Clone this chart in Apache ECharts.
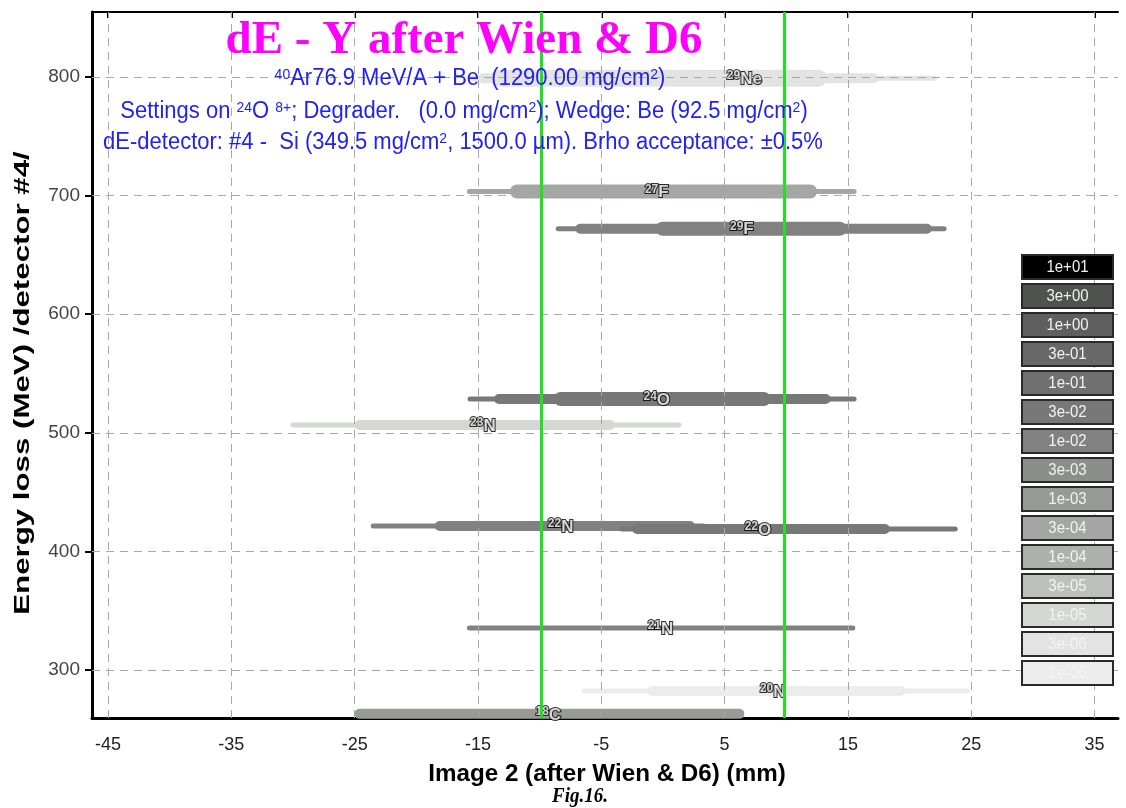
<!DOCTYPE html>
<html><head><meta charset="utf-8">
<script src="https://cdn.jsdelivr.net/npm/echarts@6/dist/echarts.min.js"></script>
<style>html,body{margin:0;padding:0;background:#fff}#c{width:1126px;height:808px}</style>
</head><body><div id="c"></div>
<script>
// ---- data ----
const xTicks = [-45, -35, -25, -15, -5, 5, 15, 25, 35];
const yTicks = [300, 400, 500, 600, 700, 800];
const massNumbers = [29, 27, 29, 24, 23, 22, 22, 21, 20, 18];
const elements = ['Ne', 'F', 'F', 'O', 'N', 'N', 'O', 'N', 'N', 'C'];
const energyLoss = [799, 703.5, 672, 528.5, 506.6, 421.4, 418.9, 335.4, 282.3, 263];
const labelX = [6.6, -0.5, 6.4, -0.5, -14.6, -8.3, 7.7, -0.2, 8.9, -9.3];
const rates = ['3e-06', '3e-04', '1e-02', '3e-02', '1e-05', '1e-02', '3e-02', '1e-02', '1e-06', '1e-03'];
// segments: [xStart, xEnd, intensity level]
const ne29 = [[-15.6, 22.2, 1], [-15.0, 17.5, 2], [-14.0, 13.3, 4]];
const f27 = [[-15.9, 15.7, 1], [-12.4, 12.5, 3]];
const f29 = [[-8.7, 23.0, 1], [-7.1, 21.8, 2], [-0.6, 14.9, 3]];
const o24 = [[-15.85, 15.7, 1], [-13.7, 13.6, 2], [-8.86, 8.75, 3]];
const n23 = [[-30.2, 1.5, 1], [-25.0, -3.9, 2]];
const n22 = [[-23.7, 3.5, 1], [-18.5, 2.6, 2]];
const o22 = [[-3.5, 23.9, 1], [-2.5, 18.4, 2]];
const n21 = [[-15.9, 15.6, 1]];
const n20 = [[-6.6, 24.9, 1], [-1.3, 19.7, 2]];
const c18 = [[-25.0, 6.6, 2]];
const bands = [ne29, f27, f29, o24, n23, n22, o22, n21, n20, c18];
const slitPositions = [-9.9, 9.8];
const legendLabels = ['1e+01', '3e+00', '1e+00', '3e-01', '1e-01', '3e-02', '1e-02', '3e-03', '1e-03', '3e-04', '1e-04', '3e-05', '1e-05', '3e-06', '1e-06'];

// ---- styles ----
const legendColors = ['#000000', '#4f524f', '#5f5f5f', '#686868', '#707070', '#787878', '#818181', '#8b8e8b', '#979a97', '#a3a6a3', '#aeb0ae', '#bec0be', '#d4d7d4', '#e3e3e3', '#ececec'];
const levelPx = {1: 5, 2: 10, 3: 14, 4: 17};
const sans = '"Liberation Sans", Arial, sans-serif';
const serif = '"Liberation Serif", "Times New Roman", serif';
const colorOf = i => legendColors[legendLabels.indexOf(rates[i])];

const segData = [];
bands.forEach((segs, i) => segs.forEach(s => segData.push([s[0], s[1], energyLoss[i], s[2], i])));

const gridLines = xTicks.map(v => ({xAxis: v})).concat(yTicks.map(v => ({yAxis: v})));

const graphics = [];
legendLabels.forEach((lab, i) => {
  const top = 255 + i * 29;
  graphics.push({type: 'rect', z: 100, shape: {x: 1022, y: top, width: 91, height: 24},
    style: {fill: legendColors[i], stroke: '#2a2a2a', lineWidth: 2}});
  graphics.push({type: 'text', z: 101, x: 1067.5, y: top + 12.5, scaleY: 1.1,
    style: {text: lab, fill: '#f2f2f2', font: '15px ' + sans, textAlign: 'center', textVerticalAlign: 'middle'}});
});
const subRich = {s: {fontSize: 14, fontFamily: sans, fill: '#2222ee', verticalAlign: 'top'}};
function subLine(text, x, y) {
  graphics.push({type: 'text', z: 100, x: x, y: y, scaleY: 1.05,
    style: {text: text, fill: '#2222ee', font: '22px ' + sans, fontSize: 22, fontFamily: sans,
      textAlign: 'center', textVerticalAlign: 'middle', rich: subRich}});
}
graphics.push({type: 'text', z: 100, x: 464, y: 41,
  style: {text: 'dE - Y after Wien & D6', fill: '#ff00ff', font: 'bold 47px ' + serif, textAlign: 'center', textVerticalAlign: 'middle'}});
subLine('{s|40}Ar76.9 MeV/A + Be  (1290.00 mg/cm{s|2})', 470, 79);
subLine('Settings on {s|24}O {s|8+}; Degrader.   (0.0 mg/cm{s|2}); Wedge: Be (92.5 mg/cm{s|2})', 464, 112);
subLine('dE-detector: #4 -  Si (349.5 mg/cm{s|2}, 1500.0 µm). Brho acceptance: ±0.5%', 463, 143);
graphics.push({type: 'text', z: 100, x: 23, y: 383, rotation: Math.PI / 2, scaleX: 1.42,
  style: {text: 'Energy loss (MeV) /detector #4/', fill: '#000', font: 'bold 22px ' + sans, textAlign: 'center', textVerticalAlign: 'middle'}});
graphics.push({type: 'text', z: 100, x: 607, y: 774, scaleX: 1.1, scaleY: 1.1,
  style: {text: 'Image 2 (after Wien & D6) (mm)', fill: '#000', font: 'bold 22px ' + sans, textAlign: 'center', textVerticalAlign: 'middle'}});
graphics.push({type: 'text', z: 100, x: 580, y: 797, scaleY: 1.1,
  style: {text: 'Fig.16.', fill: '#000', font: 'italic bold 19px ' + serif, textAlign: 'center', textVerticalAlign: 'middle'}});

const chart = echarts.init(document.getElementById('c'), null, {renderer: 'canvas'});
chart.setOption({
  animation: false,
  backgroundColor: '#fff',
  grid: {left: 92, right: 8, top: 12, bottom: 90},
  xAxis: [{
    type: 'value', min: -46.3, max: 36.9, position: 'bottom',
    axisLine: {onZero: false, lineStyle: {color: '#000', width: 3}},
    axisTick: {show: true, inside: true, length: 5, customValues: xTicks, lineStyle: {color: '#000', width: 1}},
    axisLabel: {customValues: xTicks, fontSize: 18, color: '#222', margin: 18, fontFamily: sans},
    splitLine: {show: false}
  }, {
    type: 'value', min: -46.3, max: 36.9, position: 'top',
    axisLine: {onZero: false, lineStyle: {color: '#000', width: 2}},
    axisTick: {show: true, inside: true, length: 6, customValues: xTicks, lineStyle: {color: '#000', width: 2}},
    axisLabel: {show: false}, splitLine: {show: false}
  }],
  yAxis: {
    type: 'value', min: 259.5, max: 854.8,
    axisLine: {onZero: false, lineStyle: {color: '#000', width: 3}},
    axisTick: {show: true, inside: false, length: 7, customValues: yTicks, lineStyle: {color: '#000', width: 2}},
    axisLabel: {customValues: yTicks, fontSize: 19, color: '#444', margin: 12, fontFamily: sans},
    splitLine: {show: false}
  },
  graphic: graphics,
  series: [{
    type: 'line', data: [], z: 1, silent: true,
    markLine: {silent: true, symbol: 'none', label: {show: false}, animation: false,
      lineStyle: {type: [8, 6], color: '#a8a8a8', width: 1}, data: gridLines}
  }, {
    type: 'custom', z: 2, silent: true,
    data: segData,
    encode: {x: [0, 1], y: 2},
    renderItem: function (params, api) {
      const y = api.value(2), lvl = api.value(3), iso = api.value(4);
      const p1 = api.coord([api.value(0), y]);
      const p2 = api.coord([api.value(1), y]);
      const h = levelPx[lvl];
      return {type: 'rect', shape: {x: p1[0], y: p1[1] - h / 2, width: p2[0] - p1[0], height: h, r: h / 2},
        style: {fill: colorOf(iso)}};
    }
  }, {
    type: 'line', data: [], z: 3, silent: true,
    markLine: {silent: true, symbol: 'none', label: {show: false}, animation: false,
      lineStyle: {type: 'solid', color: '#1ee21e', width: 3}, data: slitPositions.map(v => ({xAxis: v}))}
  }, {
    type: 'scatter', z: 4, silent: true, symbolSize: 0,
    data: labelX.map((x, i) => [x, energyLoss[i], i]),
    label: {show: true, position: 'inside', offset: [0, 1],
      formatter: p => '{s|' + massNumbers[p.data[2]] + '}{e|' + elements[p.data[2]] + '}',
      rich: {
        s: {fontSize: 12, fontWeight: 'bold', fontFamily: sans, color: '#fff', textBorderColor: '#000', textBorderWidth: 2, verticalAlign: 'top', lineHeight: 18},
        e: {fontSize: 17, fontWeight: 'bold', fontFamily: sans, color: '#fff', textBorderColor: '#000', textBorderWidth: 2, verticalAlign: 'middle', lineHeight: 18}
      }}
  }]
});
</script></body></html>
